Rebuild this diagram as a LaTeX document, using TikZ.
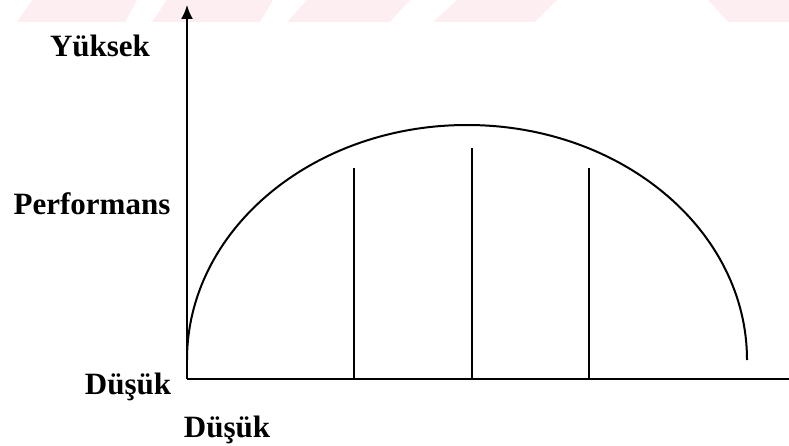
\documentclass[tikz,border=0pt]{standalone}
\usepackage{fontspec}
\setmainfont{Liberation Serif}
\usetikzlibrary{arrows.meta}
\definecolor{wmpink}{RGB}{253,238,241}

\begin{document}
\begin{tikzpicture}[x=1pt, y=1pt,
  lbl/.style={font=\fontsize{31}{34}\selectfont\bfseries, inner sep=0pt, anchor=base},
  axis/.style={line width=2pt},
  curve/.style={line width=2pt},
  mark line/.style={line width=2pt}]
\useasboundingbox (0,0) rectangle (789,445);
% ---- faint stripes at the top ----
\fill[wmpink] (17,423) -- (125,423) -- (137,445) -- (32,445) -- cycle;
\fill[wmpink] (152,423) -- (260,423) -- (273,445) -- (167,445) -- cycle;
\fill[wmpink] (287,423) -- (390,423) -- (410,445) -- (307,445) -- cycle;
\fill[wmpink] (433,423) -- (535,423) -- (557,445) -- (457,445) -- cycle;
\fill[wmpink] (728,423) -- (789,423) -- (789,445) -- (708,445) -- cycle;
% ---- axes ----
\coordinate (O) at (187,66);
\coordinate (ytop) at (187,440);
\coordinate (xend) at (789,66);
\draw[axis, -{Latex[length=14pt,width=12pt]}] (O) -- (ytop);
\draw[axis] (O) -- (xend);
% ---- labels ----
\node[lbl] (yuksek) at (100,388) {Yüksek};
\node[lbl] (perf) at (92,230) {Performans};
\node[lbl] (dusuky) at (128,51) {Düşük};
\node[lbl] (dusukx) at (227,8) {Düşük};
% ---- the curve ----
\coordinate (cstart) at (187,85);
\draw[curve] (cstart) arc[start angle=180, end angle=0, x radius=280, y radius=235];
% ---- vertical marks ----
\coordinate (m1top) at (354,277);
\coordinate (m1bot) at (354,66);
\coordinate (m2top) at (472,297);
\coordinate (m2bot) at (472,66);
\coordinate (m3top) at (589,277);
\coordinate (m3bot) at (589,66);
\draw[mark line] (m1top) -- (m1bot);
\draw[mark line] (m2top) -- (m2bot);
\draw[mark line] (m3top) -- (m3bot);
\end{tikzpicture}
\end{document}
